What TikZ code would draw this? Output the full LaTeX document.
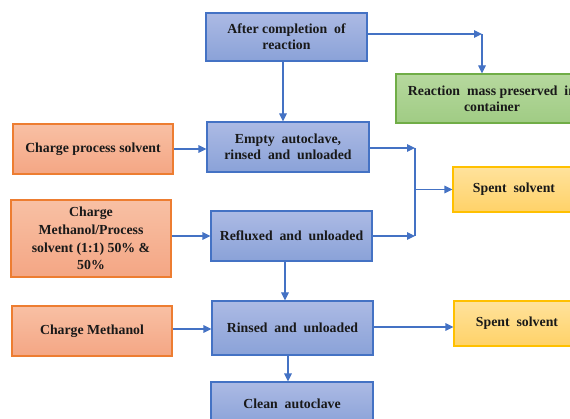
\documentclass[tikz,border=0pt]{standalone}
\usepackage{fontspec}
\setmainfont{Liberation Serif}
\usetikzlibrary{arrows.meta}
\definecolor{bluetop}{RGB}{172,186,228}
\definecolor{bluebot}{RGB}{138,162,216}
\definecolor{blueline}{RGB}{68,114,196}
\definecolor{orgtop}{RGB}{248,192,164}
\definecolor{orgbot}{RGB}{244,166,132}
\definecolor{orgline}{RGB}{237,125,49}
\definecolor{grntop}{RGB}{182,216,158}
\definecolor{grnbot}{RGB}{160,204,132}
\definecolor{grnline}{RGB}{112,173,71}
\definecolor{ylwtop}{RGB}{255,226,156}
\definecolor{ylwbot}{RGB}{255,210,104}
\definecolor{ylwline}{RGB}{255,192,0}
\definecolor{txt}{RGB}{25,25,25}
\tikzset{
  box/.style={rectangle, line width=1.1pt, inner sep=2pt, align=center,
    font=\fontsize{13.8}{16}\selectfont\bfseries, text=txt},
  bluebox/.style={box, draw=blueline, top color=bluetop, bottom color=bluebot},
  orgbox/.style={box, draw=orgline, top color=orgtop, bottom color=orgbot},
  grnbox/.style={box, draw=grnline, top color=grntop, bottom color=grnbot},
  ylwbox/.style={box, draw=ylwline, top color=ylwtop, bottom color=ylwbot},
  arr/.style={draw=blueline, line width=1.1pt, -{Triangle[length=8pt,width=7.5pt]}},
  ln/.style={draw=blueline, line width=1.1pt}
}
\begin{document}
\begin{tikzpicture}[x=1pt,y=-1pt]
\useasboundingbox (0,0) rectangle (570,419);
\clip (0,0) rectangle (570,419);
\fill[white] (0,0) rectangle (570,419);

\node[bluebox, minimum width=161pt, minimum height=48pt] (A) at (286.5,37) {After completion\ \ of\\reaction};
\node[grnbox, minimum width=192pt, minimum height=49pt] (G) at (492,98.5) {Reaction\ \ mass preserved\ \ in\\container};
\node[bluebox, minimum width=162pt, minimum height=50pt] (E) at (288,147) {Empty\ \ autoclave,\\rinsed\ \ and\ \ unloaded};
\node[orgbox, minimum width=160pt, minimum height=50pt] (CPS) at (93,149) {Charge process solvent};
\node[orgbox, minimum width=160pt, minimum height=77pt, font=\fontsize{13.8}{17.7}\selectfont\bfseries] (CMP) at (91,238.5) {Charge\\Methanol/Process\\solvent (1:1) 50\% \&\\50\%};
\node[bluebox, minimum width=161pt, minimum height=50pt] (R) at (291.5,236) {Refluxed\ \ and\ \ unloaded};
\node[ylwbox, minimum width=122pt, minimum height=45pt] (S1) at (514,189.5) {Spent\ \ solvent};
\node[bluebox, minimum width=161pt, minimum height=54pt] (RU) at (292.5,328) {Rinsed\ \ and\ \ unloaded};
\node[orgbox, minimum width=160pt, minimum height=50pt] (CM) at (92,331) {Charge Methanol};
\node[ylwbox, minimum width=126pt, minimum height=45pt] (S2) at (517,323.5) {Spent\ \ solvent};
\node[bluebox, minimum width=162pt, minimum height=44pt] (CA) at (292,404) {Clean\ \ autoclave};

% top branch to green box
\coordinate (j1) at (482,34);
\draw[arr] (A.east |- j1) -- (j1);
\draw[arr] (j1) -- (j1 |- G.north);

% A down to E
\coordinate (d1) at (283,0);
\draw[arr] (d1 |- A.south) -- (d1 |- E.north);

% charge process solvent
\draw[arr] (CPS.east) -- (CPS.east -| E.west);

% merge to spent solvent
\coordinate (mj) at (415,189.5);
\coordinate (m1) at (415,148);
\coordinate (m2) at (415,236);
\draw[arr] (E.east |- m1) -- (m1);
\draw[arr] (R.east |- m2) -- (m2);
\draw[ln] (m1) -- (m2);
\draw[arr] (mj) -- (S1.west);

% charge methanol/process
\draw[arr] (CMP.east |- R.west) -- (R.west);

% R down to RU
\coordinate (d2) at (285,0);
\draw[arr] (d2 |- R.south) -- (d2 |- RU.north);

% charge methanol
\coordinate (c3) at (0,329);
\draw[arr] (CM.east |- c3) -- (RU.west |- c3);

% RU to spent solvent 2
\coordinate (c4) at (0,327);
\draw[arr] (RU.east |- c4) -- (S2.west |- c4);

% RU down to clean
\coordinate (d3) at (288,0);
\draw[arr] (d3 |- RU.south) -- (d3 |- CA.north);
\end{tikzpicture}
\end{document}
